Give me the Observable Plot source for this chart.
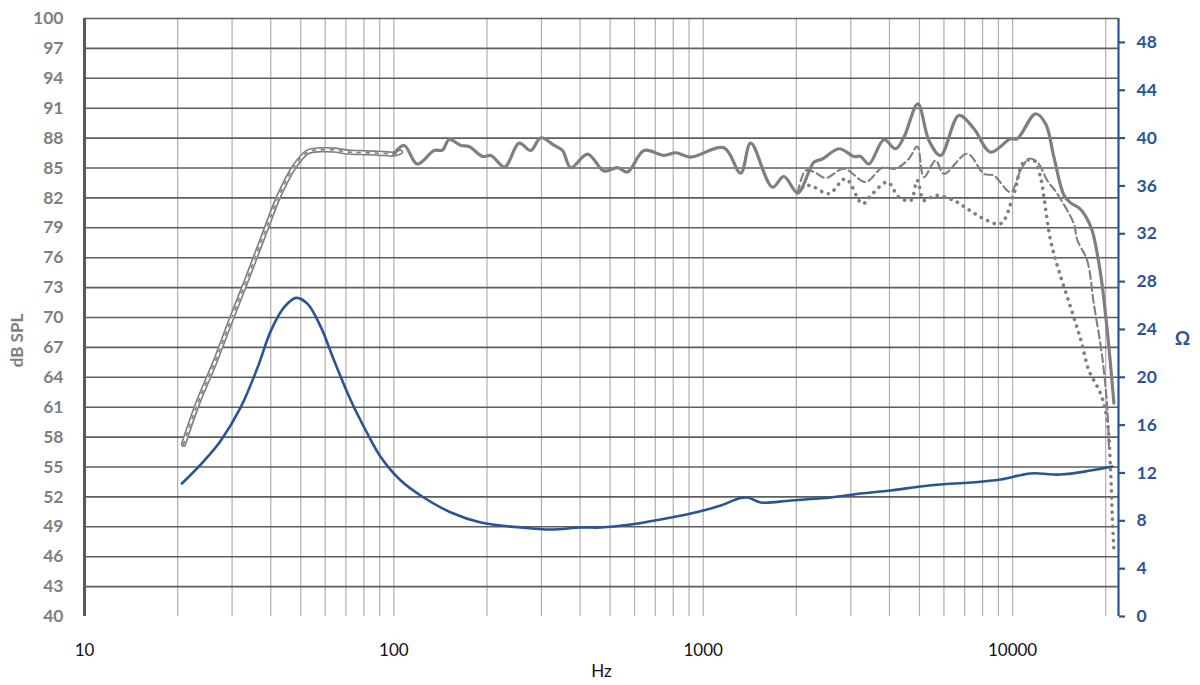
<!DOCTYPE html>
<html>
<head>
<meta charset="utf-8">
<script src="https://cdn.jsdelivr.net/npm/d3@7"></script>
<script src="https://cdn.jsdelivr.net/npm/@observablehq/plot@0.6"></script>
<style>
  html, body { margin: 0; padding: 0; background: #fff; }
  #chart svg { display: block; }
</style>
</head>
<body>
<div id="chart"></div>
<script>
// ---- tick labels / grid values ----
const freqLabels = [10, 100, 1000, 10000];
const gridFreqs = [20, 30, 40, 50, 60, 70, 80, 90, 100, 200, 300, 400, 500, 600, 700, 800, 900,
                   1000, 2000, 3000, 4000, 5000, 6000, 7000, 8000, 9000, 10000, 20000];
const splTicks = [40, 43, 46, 49, 52, 55, 58, 61, 64, 67, 70, 73, 76, 79, 82, 85, 88, 91, 94, 97, 100];
const ohmTicks = [0, 4, 8, 12, 16, 20, 24, 28, 32, 36, 40, 44, 48];

// ---- near-field / merged low-frequency SPL ----
const nearFreq = [20.9, 23.2, 26.3, 29.7, 33.7, 38.1, 42.6, 47.6, 52.6, 58.1, 64, 70.9, 78, 86.4, 93, 100, 105];
const nearSpl  = [57.3, 61.35, 65.4, 69.7, 74.05, 78.4, 82.25, 85.1, 86.6, 86.83, 86.8, 86.6, 86.55, 86.5, 86.45, 86.4, 86.6];

// ---- on-axis SPL (solid) ----
const onFreq = [100, 108, 119, 135, 143.5, 151, 164.6, 175, 193.5, 206,
                228, 254, 277, 298.5, 330, 351, 373, 423, 478, 528,
                569, 644, 747, 815, 911, 1167, 1321, 1424, 1673, 1824,
                2020, 2282, 2428, 2747, 3072, 3228, 3434, 3839, 4188, 4455,
                4942, 5365, 5853, 6707, 7503, 8490, 9852, 10350, 11868, 12788,
                13600, 14650, 15400, 16400, 17200, 18090, 19250, 20230, 21260];
const onSpl  = [86.4, 87.26, 85.4, 86.76, 86.8, 87.86, 87.26, 87.16, 86.16, 86.26,
                85.1, 87.5, 86.76, 88.03, 87.26, 86.76, 85.03, 86.4, 84.7, 85.03,
                84.6, 86.76, 86.26, 86.53, 86.1, 87.03, 84.48, 87.5, 83.08, 84.15,
                82.5, 85.6, 85.9, 86.93, 86.16, 86.16, 85.4, 87.83, 86.93, 88.1,
                91.44, 87.76, 86.26, 90.27, 88.94, 86.6, 87.93, 87.93, 90.44, 89.44,
                86.1, 82.3, 81.5, 81.0, 80.2, 78.7, 74.4, 68.7, 61.4];

// ---- off-axis SPL (dashed) ----
const dashFreq = [2020, 2144, 2282, 2489, 2851, 3350, 3793, 4188, 4624, 4920,
                  5170, 5640, 5998, 7140, 8077, 8700, 9852, 10612, 11290, 12020,
                  12950, 13940, 15780, 16180, 17430, 18310, 19500, 20230, 20480];
const dashSpl  = [82.5, 84.75, 84.6, 84.0, 84.93, 83.6, 85.03, 84.93, 85.93, 87.16,
                  84.08, 85.76, 84.42, 86.43, 84.42, 84.25, 82.58, 84.75, 85.93, 85.6,
                  83.75, 82.42, 79.4, 77.8, 75.7, 71.38, 66.0, 61.0, 57.0];

// ---- off-axis SPL (dotted) ----
const dotFreq = [2020, 2144, 2282, 2550, 2887, 3270, 3524, 3939, 4293, 4683,
                 4920, 5170, 5640, 6463, 7140, 8077, 9146, 10100, 10880, 11720,
                 12310, 12630, 13270, 14110, 15390, 16640, 17650, 19250, 20230, 20740,
                 20990, 21260];
const dotSpl  = [82.5, 83.25, 83.08, 82.42, 83.92, 81.41, 82.42, 83.58, 82.08, 81.74,
                 83.75, 81.74, 82.25, 81.74, 80.91, 79.91, 79.41, 82.42, 85.6, 85.76,
                 84.08, 82.08, 77.73, 74.7, 71.04, 67.7, 64.7, 62.36, 59.7, 54.7,
                 50.3, 46.6];

// ---- impedance (Ω) ----
const zFreq = [20.65, 24.4, 27.6, 32.0, 36.3, 40.05, 44.2, 48.25, 52.6, 58.1,
               64.1, 72.6, 82.2, 90.8, 105.3, 122, 153, 191, 257, 321,
               402, 466, 583, 729, 912, 1140, 1302, 1390, 1535, 1918,
               2583, 3228, 4034, 5045, 5850, 7312, 9140, 11430, 14290, 17870,
               21030];
const zOhm  = [11.12, 13.04, 14.72, 17.5, 20.85, 23.9, 25.86, 26.64, 26.14, 24.19,
               21.4, 18.06, 15.28, 13.32, 11.37, 10.12, 8.7, 7.86, 7.44, 7.27,
               7.44, 7.44, 7.69, 8.11, 8.61, 9.28, 9.87, 9.95, 9.53, 9.70,
               9.95, 10.28, 10.54, 10.87, 11.04, 11.2, 11.45, 11.96, 11.87, 12.2,
               12.54];

// axis domains
const xDomain = [10, 22000];
const splDomain = [40, 100];
const ohmDomain = [0, 50];

// map Ω onto the dB axis (both axes share the same frame)
const ohmToDb = o => splDomain[0] + (o - ohmDomain[0]) * (splDomain[1] - splDomain[0]) / (ohmDomain[1] - ohmDomain[0]);
const dbToOhm = d => ohmDomain[0] + (d - splDomain[0]) * (ohmDomain[1] - ohmDomain[0]) / (splDomain[1] - splDomain[0]);

const zip = (fs, vs) => fs.map((f, i) => ({f, v: vs[i]}));
const near = zip(nearFreq, nearSpl);
const onAxis = zip(onFreq, onSpl);
const dashed = zip(dashFreq, dashSpl);
const dotted = zip(dotFreq, dotSpl);
const imp = zip(zFreq, zOhm).map(d => ({f: d.f, v: ohmToDb(d.v)}));

const GRAY = "#7f7f7f";
const BLUE = "#2a5592";
const GRID_DARK = "#5e5e5e";
const GRID_LIGHT = "#b0b0b0";
const curve = "catmull-rom";

const chart = Plot.plot({
  width: 1200,
  height: 685,
  marginLeft: 84,
  marginRight: 82,
  marginTop: 18,
  marginBottom: 69,
  style: {fontFamily: "Lato, 'Open Sans', sans-serif", background: "transparent"},
  x: {type: "log", domain: xDomain, axis: null},
  y: {domain: splDomain, axis: null},
  marks: [
    // grid
    Plot.ruleX(gridFreqs, {stroke: GRID_LIGHT, strokeWidth: 1.2}),
    Plot.ruleY(splTicks.filter(d => d > splDomain[0]), {stroke: GRID_DARK, strokeWidth: 1.6}),
    // left axis line
    Plot.ruleX([xDomain[0]], {stroke: "#595959", strokeWidth: 3}),
    // bottom axis labels
    Plot.axisX(freqLabels, {
      anchor: "bottom", tickSize: 0, tickPadding: 27, fontSize: 17, color: "#111",
      tickFormat: d => String(d), label: null
    }),
    // left axis labels
    Plot.axisY(splTicks, {
      anchor: "left", tickSize: 0, tickPadding: 21, fontSize: 17.5, fontWeight: "bold",
      color: "#7f7f7f", tickFormat: d => String(d), label: null
    }),
    // right (impedance) axis
    Plot.ruleX([xDomain[1]], {stroke: BLUE, strokeWidth: 2.2}),
    Plot.axisY(ohmTicks.map(ohmToDb), {
      anchor: "right", tickSize: 6, tickPadding: 12, fontSize: 17.5, fontWeight: "bold",
      color: BLUE, stroke: BLUE, strokeWidth: 2.2,
      tickFormat: d => String(Math.round(dbToOhm(d))), label: null
    }),
    // axis titles
    Plot.text(["Hz"], {frameAnchor: "bottom", dy: 60, fontSize: 17, fill: "#111", textAnchor: "middle"}),
    Plot.text(["dB SPL"], {frameAnchor: "left", dx: -67, dy: 23, rotate: -90, fontSize: 17,
      fontWeight: "bold", fill: "#7f7f7f", textAnchor: "middle"}),
    Plot.text(["Ω"], {frameAnchor: "right", dx: 64, dy: 21, fontSize: 19, fontWeight: "bold",
      fill: BLUE, textAnchor: "middle"}),
    // impedance
    Plot.line(imp, {x: "f", y: "v", stroke: BLUE, strokeWidth: 2.6, curve}),
    // low-frequency merged curve (double-outlined look)
    Plot.line(near, {x: "f", y: "v", stroke: GRAY, strokeWidth: 5.5, curve, strokeLinecap: "round"}),
    Plot.line(near, {x: "f", y: "v", stroke: "#ffffff", strokeWidth: 2.2, curve}),
    Plot.line(near, {x: "f", y: "v", stroke: GRAY, strokeWidth: 1.6, strokeDasharray: "3,6", curve}),
    // off-axis curves
    Plot.line(dotted, {x: "f", y: "v", stroke: GRAY, strokeWidth: 3.6, strokeDasharray: "0.1,7",
      strokeLinecap: "round", curve}),
    Plot.line(dashed, {x: "f", y: "v", stroke: GRAY, strokeWidth: 2.1, strokeDasharray: "8,4", curve}),
    // on-axis
    Plot.line(onAxis, {x: "f", y: "v", stroke: GRAY, strokeWidth: 3.2, curve, strokeLinejoin: "round"})
  ]
});

document.getElementById("chart").appendChild(chart);
</script>
</body>
</html>
